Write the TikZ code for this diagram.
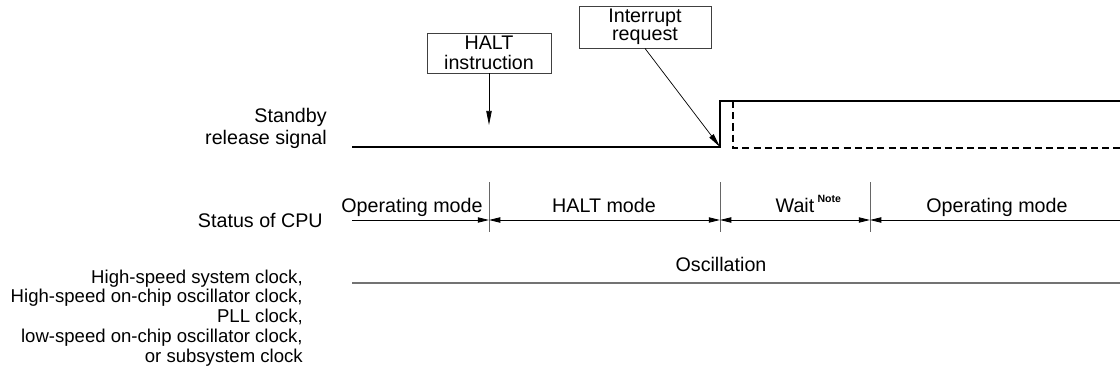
\documentclass[tikz,border=0pt]{standalone}
\usepackage{fontspec}
\setmainfont{Liberation Sans}
\usetikzlibrary{positioning,arrows.meta}

\newcommand{\notemark}{\rlap{\,\raisebox{6.5pt}{\fontsize{7.5}{8}\selectfont\bfseries Note}}}

\begin{document}
\begin{tikzpicture}[x=0.025cm, y=-0.025cm,
  >={Triangle[length=8pt,width=3.8pt]},
  txt/.style={font=\fontsize{14}{14.2}\selectfont, inner sep=0pt},
  box/.style={draw=black!75, line width=0.6pt, minimum height=1cm, align=center,
              font=\fontsize{14}{14.2}\selectfont, inner sep=0pt},
  arr/.style={-{Triangle[length=10pt,width=3.8pt]}, line width=0.5pt},
  sig/.style={line width=1.6pt},
  modearr/.style={line width=0.6pt},
  sepline/.style={black!60, line width=0.6pt},
  osc/.style={black!55, line width=1pt},
]
  \useasboundingbox (0,0) rectangle (1120,381);

  % row labels
  \node[txt, align=right, anchor=east, font=\fontsize{14}{15.6}\selectfont] (sby) at (327,128) {Standby\\release signal};
  \node[txt, anchor=base east] (cpu) at (323,227) {Status of CPU};
  \node[txt, align=right, anchor=east, font=\fontsize{13.2}{14.1}\selectfont] (clk) at (303,318)
    {High-speed system clock,\\High-speed on-chip oscillator clock,\\PLL clock,\\low-speed on-chip oscillator clock,\\or subsystem clock};

  % standby release signal
  \coordinate (s0)   at (352,147);
  \coordinate (rise) at (720,147);
  \coordinate (rtop) at (720,101);
  \coordinate (s1)   at (1120,101);
  \coordinate (d0)   at (733,101);
  \coordinate (d1)   at (733,148);
  \coordinate (d2)   at (1120,148);
  \draw[sig] (s0) -- (rise) -- (rtop) -- (s1);
  \draw[sig, dash pattern=on 5pt off 3pt] (d0) -- (d1) -- (d2);

  % trigger boxes
  \node[box, minimum width=3.1cm] (halt) at (489,53) {HALT\\instruction};
  \node[box, minimum width=3.3cm, minimum height=1.05cm, font=\fontsize{14}{10.8}\selectfont] (irq) at (645,27) {Interrupt\\request};
  \coordinate (haltpt) at (489,125);
  \draw[arr] (halt) -- (haltpt);
  \draw[arr] (irq.south) -- (rise);

  % status of CPU
  \foreach \x in {489,720,870}
    \draw[sepline] (\x,182) -- (\x,232);
  \coordinate (m0) at (352,220);
  \coordinate (m1) at (489,220);
  \coordinate (m2) at (720,220);
  \coordinate (m3) at (870,220);
  \coordinate (m4) at (1120,220);
  \draw[modearr, ->]  (m0) -- (m1);
  \draw[modearr, <->] (m1) -- (m2);
  \draw[modearr, <->] (m2) -- (m3);
  \draw[modearr, <-]  (m3) -- (m4);
  \node[txt, anchor=base] (op1) at (412,212) {Operating mode};
  \node[txt, anchor=base] (hm)  at (604,212) {HALT mode};
  \node[txt, anchor=base] (wt)  at (795,212) {Wait\notemark};
  \node[txt, anchor=base] (op2) at (997,212) {Operating mode};

  % clocks
  \coordinate (o0) at (352,283);
  \coordinate (o1) at (1120,283);
  \draw[osc] (o0) -- (o1);
  \node[txt, anchor=base] (oscl) at (721,271) {Oscillation};
\end{tikzpicture}
\end{document}
